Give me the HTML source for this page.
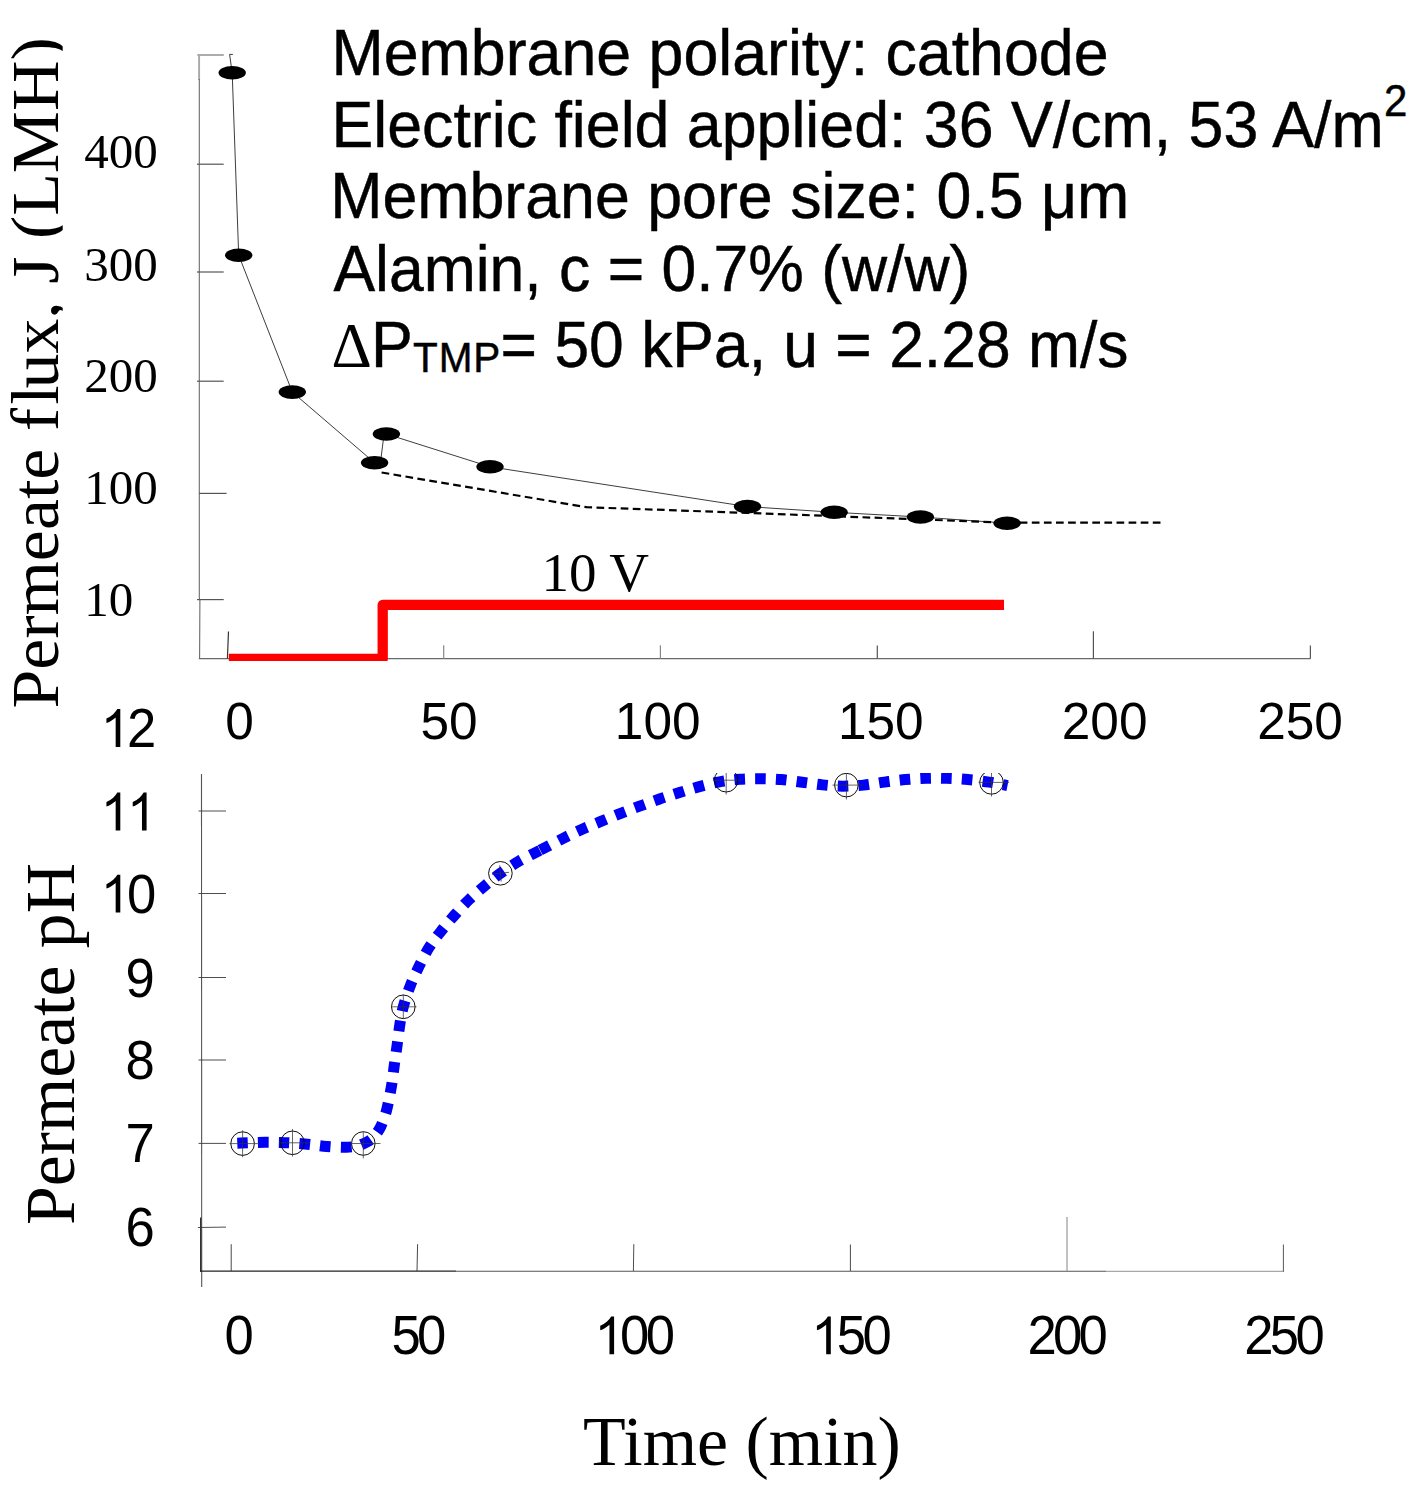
<!DOCTYPE html>
<html>
<head>
<meta charset="utf-8">
<title>Permeate flux and pH</title>
<style>
  html, body { margin: 0; padding: 0; background: #ffffff; }
  body { width: 1423px; height: 1497px; overflow: hidden; }
  svg { display: block; }
  .sans { font-family: "Liberation Sans", sans-serif; }
  .serif { font-family: "Liberation Serif", serif; }
  text { fill: #000; }
</style>
</head>
<body>
<svg width="1423" height="1497" viewBox="0 0 1423 1497">
  <defs>
    <clipPath id="clipTop"><rect x="190" y="40" width="1233" height="621"/></clipPath>
    <path id="one" d="M763 0H583V-1147Q518 -1085 412.5 -1023Q307 -961 223 -930V-1104Q374 -1175 487 -1276Q600 -1377 647 -1472H763Z"/>
    <clipPath id="clipTitle"><rect x="0" y="0" width="62.7" height="760"/></clipPath>
    <clipPath id="clipBot"><rect x="190" y="773" width="1233" height="520"/></clipPath>
  </defs>
  <rect x="0" y="0" width="1423" height="1497" fill="#ffffff"/>

  <!-- ================= TOP CHART ================= -->
  <!-- axes -->
  <g stroke="#6a6a6a" stroke-width="1.1" fill="none">
    <path d="M199.1 54.5 L199.1 80" stroke="#a8a8a8" stroke-width="1.9"/>
    <path d="M199.3 79 L199.3 598 L199.9 600 L199.6 658.7"/>
    <path d="M198.8 658.7 L1310.4 658.7" stroke-width="1.2"/>
  </g>
  <g stroke="#555" stroke-width="1.2" fill="none">
    <!-- y ticks -->
    <path d="M197.3 55 L223.8 55" stroke="#a8a8a8" stroke-width="1.9"/>
    <path d="M197 164.2 L223.7 164.2"/>
    <path d="M197 272 L223.7 272"/>
    <path d="M197 381.2 L223.7 381.2"/>
    <path d="M199 493.4 L226.6 493.4"/>
    <path d="M197 599.6 L223.7 599.6"/>
    <!-- x ticks -->
    <path d="M228.5 631.4 L227.4 658.6" stroke="#333"/>
    <path d="M443.7 645.3 L443.7 658.7" stroke="#888"/>
    <path d="M660.4 645.3 L660.4 658.7" stroke="#888"/>
    <path d="M877.3 645.6 L877.3 658.7"/>
    <path d="M1093.4 631.2 L1093.4 658.7"/>
    <path d="M1310.4 645.6 L1310.4 658.7"/>
  </g>

  <!-- y tick labels -->
  <g class="serif" font-size="49">
    <text x="84.2" y="168.2">400</text>
    <text x="84.2" y="280.5">300</text>
    <text x="84.2" y="392">200</text>
    <text x="84.2" y="504">100</text>
    <text x="84.2" y="615.5">10</text>
  </g>

  <!-- solid thin connecting line -->
  <path d="M232.9 54.4 L229.6 54.4 L232.2 72.8 L238.7 255.2 L292.3 392.1 L374.6 462.8 L381.1 457.5 L383.3 440 L386.4 434 L490 466.8 L747.5 506.6 L834.2 512.3 L920.4 517 L1007.1 523.2"
        fill="none" stroke="#1a1a1a" stroke-width="0.85"/>
  <!-- dashed line -->
  <path d="M381.6 472.5 L586.6 507.2 L747 512.9 L1007.1 522.7 L1163.5 522.6"
        fill="none" stroke="#000" stroke-width="2.2" stroke-dasharray="7.7 4.4"/>

  <!-- data ellipses -->
  <g fill="#000">
    <ellipse cx="232.2" cy="72.8" rx="13.7" ry="6.8"/>
    <ellipse cx="238.7" cy="255.2" rx="13.7" ry="6.8"/>
    <ellipse cx="292.3" cy="392.1" rx="13.7" ry="6.8"/>
    <ellipse cx="374.6" cy="462.8" rx="13.7" ry="6.8"/>
    <ellipse cx="386.4" cy="434" rx="13.7" ry="6.8"/>
    <ellipse cx="490" cy="466.8" rx="13.7" ry="6.8"/>
    <ellipse cx="747.5" cy="506.6" rx="13.7" ry="6.8"/>
    <ellipse cx="834.2" cy="512.3" rx="13.7" ry="6.8"/>
    <ellipse cx="920.4" cy="517" rx="13.7" ry="6.8"/>
    <ellipse cx="1007.1" cy="523.2" rx="13.7" ry="6.8"/>
  </g>

  <!-- red voltage step -->
  <g clip-path="url(#clipTop)">
    <path d="M228.8 659 L382.7 659 L382.7 604.8 L1004 604.8" fill="none" stroke="#ff0000" stroke-width="10.3" stroke-linejoin="round"/>
  </g>
  <text class="serif" font-size="55" x="541.5" y="591">10 V</text>

  <!-- annotation text -->
  <g class="sans" font-size="62.7" stroke="#000" stroke-width="0.45">
    <text transform="translate(331.5 75.2) scale(1 1.04)">Membrane polarity: cathode</text>
    <text transform="translate(331.5 146.8) scale(1 1.04)">Electric field applied: 36 V/cm, 53 A/m</text>
    <text transform="translate(1384 116.4) scale(1 1.04)" font-size="42">2</text>
    <text transform="translate(330.2 217.7) scale(1 1.04)">Membrane pore size: 0.5 μm</text>
    <text transform="translate(333.4 291) scale(0.9965 1.04)">Alamin, c = 0.7% (w/w)</text>
    <text class="serif" x="331.4" y="367.3" stroke="none">Δ</text>
    <text transform="translate(371 366.9) scale(1 1.04)">P</text>
    <text transform="translate(413 371.8) scale(1 1.04)" font-size="40.5" letter-spacing="0.9">TMP</text>
    <text transform="translate(500.6 366.9) scale(0.9955 1.04)">= 50 kPa, u = 2.28 m/s</text>
  </g>

  <!-- y axis title -->
  <g clip-path="url(#clipTitle)"><text class="serif" font-size="69" transform="translate(57.6 708.6) rotate(-90) scale(1.0125 0.98)">Permeate f<tspan dx="3.2">l</tspan><tspan dx="-3.2">ux, J (LMH)</tspan></text></g>

  <!-- top chart x labels -->
  <g class="sans" font-size="51" text-anchor="middle">
    <text transform="translate(239.5 738.6) scale(1.008 1)">0</text>
    <text transform="translate(449 738.6) scale(1.008 1)">50</text>
    <text transform="translate(657.7 738.6) scale(1.008 1)">100</text>
    <text transform="translate(880.8 738.6) scale(1.008 1)">150</text>
    <text transform="translate(1104.6 738.6) scale(1.008 1)">200</text>
    <text transform="translate(1300 738.6) scale(1.008 1)">250</text>
  </g>

  <!-- ================= BOTTOM CHART ================= -->
  <g stroke="#555" stroke-width="1.1" fill="none">
    <path d="M201.5 774 L201.7 1287"/>
    <path d="M200.7 1217.4 L200.7 1271.8" stroke="#222" stroke-width="1.25"/>
    <path d="M200 1271.2 L456 1271.2" stroke="#222" stroke-width="1.2"/>
    <path d="M456 1271.2 L1106 1271.2" stroke="#555" stroke-width="1.15"/>
    <path d="M1106 1271.4 L1283.4 1271.4" stroke="#a8a8a8" stroke-width="1.3"/>
  </g>
  <g stroke="#3a3a3a" stroke-width="0.9" fill="none">
    <path d="M198.5 811 L226 811"/>
    <path d="M198.5 893.5 L226 893.5"/>
    <path d="M198.5 977.5 L226 977.5"/>
    <path d="M198.5 1060 L226 1060"/>
    <path d="M198.5 1143.4 L226 1143.4"/>
    <path d="M197.9 1227.5 L226 1227.1"/>
    <path d="M231.2 1244.2 L231.2 1271" stroke="#333"/>
    <path d="M417.6 1244.2 L417 1271" stroke="#333"/>
    <path d="M633.8 1244.2 L633.4 1271"/>
    <path d="M850.4 1244.5 L850.4 1271" stroke="#333"/>
    <path d="M1067 1217 L1067 1271" stroke="#a0a0a0" stroke-width="1.3"/>
    <path d="M1283.4 1244.5 L1283.4 1271.8" stroke="#444"/>
  </g>

  <!-- y labels -->
  <g class="sans" font-size="52.6">
    <use href="#one" transform="translate(100.70 746.9) scale(0.025684)"/><text transform="translate(127.00 746.9) scale(1 1.04)" letter-spacing="-2.95">2</text>
    <use href="#one" transform="translate(100.70 830.4) scale(0.025684)"/><use href="#one" transform="translate(127.00 830.4) scale(0.025684)"/>
    <use href="#one" transform="translate(100.70 912.5) scale(0.025684)"/><text transform="translate(127.00 912.5) scale(1 1.04)" letter-spacing="-2.95">0</text>
    <text transform="translate(125.60 996.5) scale(1 1.04)" letter-spacing="0">9</text>
    <text transform="translate(125.60 1079) scale(1 1.04)" letter-spacing="0">8</text>
    <text transform="translate(125.60 1162.4) scale(1 1.04)" letter-spacing="0">7</text>
    <text transform="translate(125.60 1245.8) scale(1 1.04)" letter-spacing="0">6</text>
  </g>
  <!-- x labels -->
  <g class="sans" font-size="52.6">
    <text transform="translate(224.60 1354.2) scale(1 1.04)" letter-spacing="0">0</text>
    <text transform="translate(391.50 1354.2) scale(1 1.04)" letter-spacing="-3.65">50</text>
    <use href="#one" transform="translate(594.50 1354.2) scale(0.025684)"/><text transform="translate(620.10 1354.2) scale(1 1.04)" letter-spacing="-3.65">00</text>
    <use href="#one" transform="translate(811.20 1354.2) scale(0.025684)"/><text transform="translate(836.80 1354.2) scale(1 1.04)" letter-spacing="-3.65">50</text>
    <text transform="translate(1027.40 1354.2) scale(1 1.04)" letter-spacing="-3.65">200</text>
    <text transform="translate(1244.20 1354.2) scale(1 1.04)" letter-spacing="-3.65">250</text>
  </g>

  <!-- blue dotted curve -->
  <g clip-path="url(#clipBot)" fill="none" stroke="#0000f4" stroke-width="11" stroke-dasharray="10.6 10.15">
    <path d="M237.3 1143.2 C241.5 1143.0 245.4 1142.9 250.0 1142.7 C254.6 1142.5 260.0 1142.3 265.0 1142.3 C270.0 1142.3 275.4 1142.4 280.0 1142.5 C284.6 1142.6 287.5 1142.7 292.5 1143.0 C297.5 1143.3 304.3 1143.9 310.0 1144.5 C315.7 1145.1 320.7 1146.0 326.8 1146.4 C332.9 1146.9 341.5 1147.3 346.5 1147.2 C351.5 1147.1 354.2 1146.6 357.0 1146.0 C359.8 1145.4 361.4 1144.6 363.4 1143.7 C365.4 1142.8 367.4 1141.8 369.0 1140.8 C370.6 1139.8 371.9 1138.8 373.2 1137.5 C374.5 1136.2 375.7 1134.6 377.0 1132.8 C378.3 1131.0 379.6 1129.0 380.8 1126.5 C382.0 1124.0 383.2 1120.7 384.3 1117.5 C385.4 1114.3 386.1 1112.5 387.3 1107.2 C388.5 1102.0 390.3 1093.0 391.5 1086.0 C392.7 1079.0 393.4 1071.8 394.3 1065.0 C395.2 1058.2 396.2 1052.1 397.1 1045.3 C398.0 1038.5 398.9 1030.6 399.9 1024.2 C400.9 1017.8 401.5 1013.3 403.3 1006.8 C405.1 1000.2 407.9 991.8 410.6 984.9 C413.3 978.0 416.5 971.5 419.6 965.2 C422.7 958.9 425.7 952.8 429.4 946.9 C433.1 941.0 437.6 935.5 442.0 930.0 C446.4 924.5 451.0 919.1 455.6 914.0 C460.2 908.9 464.6 903.9 469.6 899.1 C474.6 894.3 480.5 889.4 485.6 885.1 C490.8 880.8 494.9 877.3 500.5 873.3 C506.1 869.3 512.3 865.1 519.2 861.1 C526.1 857.1 534.4 853.2 542.0 849.3"/>
    <path d="M540.2 850.2 C547.9 846.3 556.2 841.8 563.2 838.3 C570.2 834.8 575.8 832.1 582.2 829.2 C588.6 826.4 595.2 823.8 601.5 821.2 C607.8 818.6 613.8 816.1 620.1 813.6 C626.5 811.1 633.0 808.6 639.6 806.2 C646.2 803.8 653.0 801.3 659.6 799.0 C666.2 796.7 672.9 794.7 679.5 792.6 C686.1 790.5 692.7 788.4 699.4 786.6 C706.1 784.8 712.8 783.0 719.5 781.8 C726.2 780.6 733.0 779.8 739.8 779.3 C746.6 778.8 753.3 778.7 760.2 778.7 C767.1 778.8 774.2 779.0 781.2 779.6 C788.2 780.2 795.3 781.3 802.2 782.2 C809.1 783.1 815.9 784.2 822.6 784.9 C829.4 785.6 835.9 786.2 842.7 786.2 C849.5 786.2 856.5 785.8 863.5 785.1 C870.5 784.4 877.5 783.0 884.5 782.1 C891.5 781.2 898.5 780.2 905.5 779.6 C912.5 779.0 919.3 778.5 926.2 778.3 C933.1 778.1 939.9 778.1 946.9 778.3 C953.9 778.5 961.0 779.0 968.0 779.6 C975.0 780.2 982.4 781.1 989.0 782.1 C995.6 783.1 1001.3 784.4 1007.5 785.6"/>
  </g>

  <!-- markers -->
  <g clip-path="url(#clipBot)" stroke="#000" stroke-width="1" fill="none">
    <g stroke-width="0.95">
      <circle cx="242.6" cy="1143.6" r="11.8"/>
      <circle cx="292.5" cy="1142.8" r="11.8"/>
      <circle cx="363.3" cy="1143.5" r="11.8"/>
      <circle cx="403.3" cy="1006.8" r="11.8"/>
      <circle cx="500.4" cy="873.3" r="11.8"/>
      <circle cx="726.2" cy="780.2" r="11.8"/>
      <circle cx="846.4" cy="785.1" r="11.8"/>
      <circle cx="991.5" cy="782.4" r="11.8"/>
    </g>
    <g stroke-width="0.75" stroke="#333">
      <path d="M229.5 1143.6 H259 M242.6 1130.3 V1157.3"/>
      <path d="M279 1142.8 H310 M292.5 1129 V1156.5"/>
      <path d="M351.5 1143.5 H380.5 M363.3 1132 V1158.4"/>
      <path d="M391.5 1006.8 H416.5 M403.3 994.5 V1019"/>
      <path d="M492 874.3 L509 872.3 M499.6 865.3 L501.2 881.5"/>
      <path d="M713 780.2 H742 M726.2 767 V794.5"/>
      <path d="M832.5 785.1 H863.5 M846.4 771.5 V799.5"/>
      <path d="M978.5 782.4 H1009 M991.5 769 V796.5"/>
    </g>
  </g>

  <!-- titles -->
  <text class="serif" font-size="69" transform="translate(73.8 1225) rotate(-90) scale(1.0107 1)">Permeate pH</text>
  <text class="serif" font-size="69" transform="translate(583 1464.6) scale(1.013 1)">Time (min)</text>
</svg>
</body>
</html>
